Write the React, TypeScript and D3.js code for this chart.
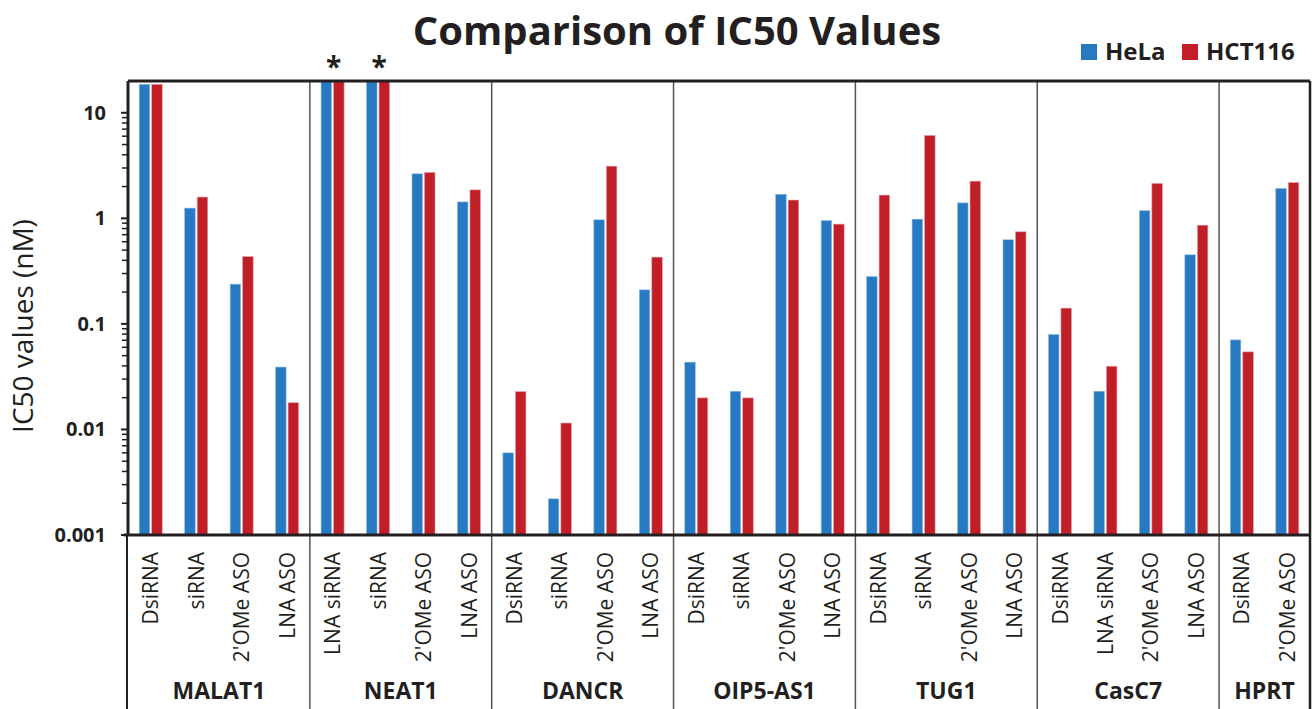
import React from 'react';
import * as d3 from 'd3';

const groups = ['MALAT1', 'NEAT1', 'DANCR', 'OIP5-AS1', 'TUG1', 'CasC7', 'HPRT'];
const treatments = [
  ['DsiRNA', 'siRNA', "2'OMe ASO", 'LNA ASO'],
  ['LNA siRNA', 'siRNA', "2'OMe ASO", 'LNA ASO'],
  ['DsiRNA', 'siRNA', "2'OMe ASO", 'LNA ASO'],
  ['DsiRNA', 'siRNA', "2'OMe ASO", 'LNA ASO'],
  ['DsiRNA', 'siRNA', "2'OMe ASO", 'LNA ASO'],
  ['DsiRNA', 'LNA siRNA', "2'OMe ASO", 'LNA ASO'],
  ['DsiRNA', "2'OMe ASO"],
];
const helaValues = [
  18.6, 1.25, 0.238, 0.039,
  20, 20, 2.64, 1.43,
  0.006, 0.0022, 0.968, 0.21,
  0.0434, 0.023, 1.69, 0.953,
  0.281, 0.982, 1.4, 0.626,
  0.0792, 0.023, 1.18, 0.451,
  0.0705, 1.92,
];
const hct116Values = [
  18.6, 1.59, 0.434, 0.0179,
  20, 20, 2.72, 1.86,
  0.0228, 0.0115, 3.12, 0.429,
  0.0199, 0.0199, 1.49, 0.881,
  1.66, 6.09, 2.25, 0.745,
  0.141, 0.0397, 2.14, 0.861,
  0.0543, 2.18,
];
// items flagged with an asterisk (value beyond axis)
const starredItems = ['NEAT1|LNA siRNA', 'NEAT1|siRNA'];
const yTickValues = [0.001, 0.01, 0.1, 1, 10];
const seriesNames = ['HeLa', 'HCT116'];
const colors = ['#2779c2', '#c11f28'];

const W = 1312;
const H = 709;
const margin = { top: 81, left: 128, right: 2, bottom: 174 };
const font = "'Open Sans', sans-serif";
const ink = '#231f20';

export default function App() {
  const items = groups.flatMap((g, gi) =>
    treatments[gi].map((t) => ({ group: g, name: t, key: g + '|' + t }))
  );

  const x = d3
    .scaleBand()
    .domain(items.map((d) => d.key))
    .range([margin.left, W - margin.right])
    .padding(0);

  const y = d3
    .scaleLog()
    .domain([0.001, 20])
    .range([H - margin.bottom, margin.top]);

  const barW = 10.5;
  const gap = 2;

  const minorTicks: number[] = [];
  for (let e = -3; e <= 1; e++) {
    for (let m = 2; m <= 9; m++) {
      const v = m * Math.pow(10, e);
      if (v < 20) minorTicks.push(v);
    }
  }

  const groupBounds: { name: string; x0: number; x1: number }[] = [];
  let idx = 0;
  groups.forEach((g, gi) => {
    const first = items[idx].key;
    const last = items[idx + treatments[gi].length - 1].key;
    groupBounds.push({ name: g, x0: x(first)!, x1: x(last)! + x.bandwidth() });
    idx += treatments[gi].length;
  });

  const y0 = H - margin.bottom;

  return (
    <svg
      width={W}
      height={H}
      style={{ position: 'absolute', left: 0, top: 0, background: '#fff' }}
    >
      <text
        x={677}
        y={45}
        textAnchor="middle"
        fontFamily={font}
        fontWeight="bold"
        fontSize={40}
        fill={ink}
      >
        Comparison of IC50 Values
      </text>

      {/* legend */}
      {seriesNames.map((s, i) => {
        const lx = i === 0 ? 1081 : 1182;
        return (
          <g key={s}>
            <rect x={lx} y={44} width={16} height={16} fill={colors[i]} />
            <text
              x={lx + 24}
              y={60}
              fontFamily={font}
              fontWeight="bold"
              fontSize={24}
              fill={ink}
            >
              {s}
            </text>
          </g>
        );
      })}

      {/* bars */}
      {items.map((d, i) => {
        const cx = x(d.key)! + x.bandwidth() / 2;
        const vals = [helaValues[i], hct116Values[i]];
        return (
          <g key={d.key}>
            {vals.map((v, s) => {
              const bx = s === 0 ? cx - gap / 2 - barW : cx + gap / 2;
              return (
                <rect
                  key={s}
                  x={bx}
                  y={y(v)}
                  width={barW}
                  height={y0 - y(v)}
                  fill={colors[s]}
                  stroke={s === 0 ? '#8fbbe4' : '#e49aa0'}
                  strokeWidth={0.6}
                />
              );
            })}
          </g>
        );
      })}

      {/* asterisks */}
      {starredItems.map((k) => (
        <text
          key={k}
          x={x(k)! + x.bandwidth() / 2 + 1}
          y={77}
          textAnchor="middle"
          fontFamily={font}
          fontWeight="bold"
          fontSize={28}
          fill={ink}
        >
          *
        </text>
      ))}

      {/* group separators */}
      {groupBounds.slice(1).map((g) => (
        <line
          key={g.name}
          x1={g.x0}
          x2={g.x0}
          y1={margin.top}
          y2={H}
          stroke="#555"
          strokeWidth={1.5}
        />
      ))}
      <line x1={margin.left - 1} x2={margin.left - 1} y1={y0} y2={H} stroke={ink} strokeWidth={2} />
      <line
        x1={W - margin.right}
        x2={W - margin.right}
        y1={margin.top}
        y2={H}
        stroke={ink}
        strokeWidth={2.5}
      />

      {/* frame */}
      <line x1={margin.left} x2={W - margin.right} y1={margin.top} y2={margin.top} stroke={ink} strokeWidth={3} />
      <line x1={margin.left - 4} x2={W - margin.right} y1={y0} y2={y0} stroke={ink} strokeWidth={3} />
      <line x1={margin.left} x2={margin.left} y1={margin.top} y2={y0} stroke={ink} strokeWidth={3} />

      {/* y ticks */}
      {minorTicks.map((v) => (
        <line key={v} x1={margin.left - 6} x2={margin.left} y1={y(v)} y2={y(v)} stroke={ink} strokeWidth={1.5} />
      ))}
      {yTickValues.map((v) => (
        <g key={v}>
          <line x1={margin.left - 7} x2={margin.left} y1={y(v)} y2={y(v)} stroke={ink} strokeWidth={2} />
          <text
            x={106}
            y={y(v)}
            dy="0.35em"
            textAnchor="end"
            fontFamily={font}
            fontWeight="bold"
            fontSize={20}
            fill={ink}
          >
            {String(v)}
          </text>
        </g>
      ))}

      <text
        transform={`translate(33,${(margin.top + y0) / 2 + 18}) rotate(-90)`}
        textAnchor="middle"
        fontFamily={font}
        fontSize={28}
        fill={ink}
      >
        IC50 values (nM)
      </text>

      {/* category labels */}
      {items.map((d) => (
        <text
          key={d.key}
          transform={`translate(${x(d.key)! + x.bandwidth() / 2},552) rotate(-90)`}
          textAnchor="end"
          dy="0.36em"
          fontFamily={font}
          fontSize={21}
          fill={ink}
        >
          {d.name}
        </text>
      ))}

      {groupBounds.map((g) => (
        <text
          key={g.name}
          x={(g.x0 + g.x1) / 2}
          y={699}
          textAnchor="middle"
          fontFamily={font}
          fontWeight="bold"
          fontSize={23}
          fill={ink}
        >
          {g.name}
        </text>
      ))}
    </svg>
  );
}
